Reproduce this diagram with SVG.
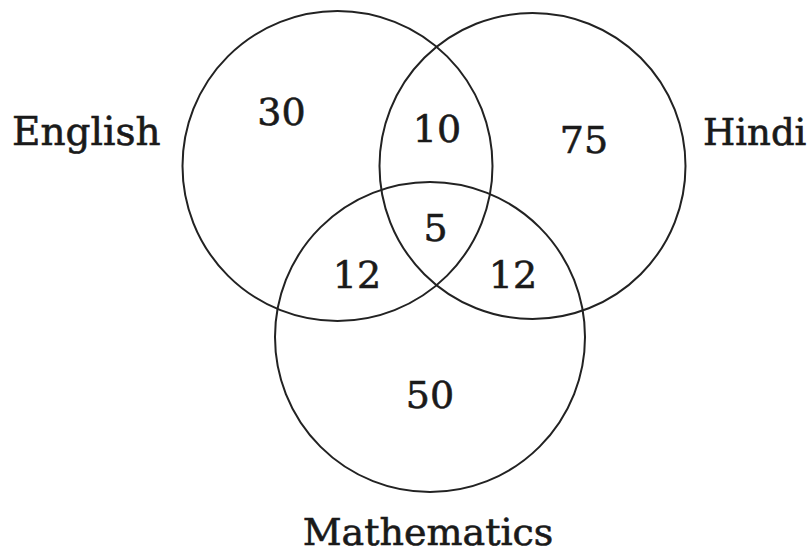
<svg xmlns="http://www.w3.org/2000/svg" width="811" height="558" viewBox="0 0 811 558">
<style>
.c{fill:none;stroke:#222;stroke-width:2}
.n{font-family:"DejaVu Serif","Liberation Serif",serif;font-size:38px;fill:#1a1a1a;stroke:#1a1a1a;stroke-width:0.6;text-anchor:middle}
.l{font-family:"DejaVu Serif","Liberation Serif",serif;font-size:39px;fill:#1a1a1a;stroke:#1a1a1a;stroke-width:0.6}
</style>
<rect width="811" height="558" fill="#fff"/>
<g id="english"><circle class="c" cx="337.5" cy="166" r="155"/><text class="l" x="12" y="145">English</text></g>
<g id="hindi"><circle class="c" cx="532.5" cy="166" r="153"/><text class="l" x="703" y="145" style="font-size:37px">Hindi</text></g>
<g id="mathematics"><circle class="c" cx="430" cy="337" r="155"/><text class="l" x="428" y="545" text-anchor="middle" style="font-size:38px">Mathematics</text></g>
<g id="counts">
<text class="n" x="281.5" y="125">30</text>
<text class="n" x="437" y="142">10</text>
<text class="n" x="584" y="153">75</text>
<text class="n" x="435.5" y="241">5</text>
<text class="n" x="357" y="288">12</text>
<text class="n" x="513" y="288">12</text>
<text class="n" x="430" y="408">50</text>
</g>
</svg>
